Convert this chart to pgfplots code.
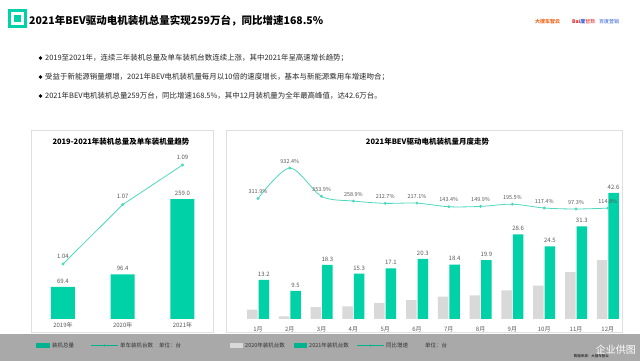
\documentclass[border=0pt]{standalone}
\usepackage{fontspec}
\setmainfont{Noto Sans CJK SC}
\usepackage{pgfplots}
\pgfplotsset{compat=1.18}
\definecolor{bargreen}{HTML}{00D1A7}
\definecolor{linegreen}{HTML}{4FD8C0}
\definecolor{bargray}{HTML}{D9D9D9}
\definecolor{band}{HTML}{A9A9A9}
\definecolor{lbl}{HTML}{595959}
\definecolor{bdorange}{HTML}{F26B21}
\definecolor{bdred}{HTML}{E02020}
\definecolor{bdblue}{HTML}{2A5BD7}
\pgfplotsset{
  /pgf/number format/assume math mode=true,
  panel/.style={scale only axis, anchor=south west, height=169pt,
    axis line style={draw=none}, tick style={draw=none}, ytick=\empty,
    clip=false},
}
\begin{document}
\begin{tikzpicture}[x=1pt,y=1pt]
\useasboundingbox (0,0) rectangle (640,361);
\fill[white] (0,0) rectangle (640,361);
% bottom band
\fill[band] (0,0) rectangle (640,27);
% panels
\draw[gray!25, fill=white] (31,29) rectangle (213,231);
\draw[gray!25, fill=white] (226,29) rectangle (622,231);
% logo
\draw[bargreen, line width=3pt] (9.5,334.5) rectangle (25.5,350.5);
\fill[bargreen] (14,339) rectangle (21,346);
% title
\node[anchor=west, font=\bfseries\fontsize{10.5}{12}\selectfont, inner sep=0] at (29,340) {2021年BEV驱动电机装机总量实现259万台，同比增速168.5\%};
% top-right logos
\node[anchor=west, font=\fontsize{5}{6}\selectfont, inner sep=0] at (535,339) {\textcolor{bdorange}{\bfseries 大搜车智云}};
\node[anchor=west, font=\fontsize{5}{6}\selectfont, inner sep=0] at (572,339) {\textcolor{bdred}{\bfseries Bai}\textcolor{bdblue}{\bfseries 度}\textcolor{bdred}{智数}};
\node[anchor=west, font=\fontsize{5}{6}\selectfont, inner sep=0] at (599,339) {\textcolor{bdblue}{百度营销}};
% bullets
\foreach \yy/\txt in {303/{2019至2021年，连续三年装机总量及单车装机台数连续上涨，其中2021年呈高速增长趋势；},
  284/{受益于新能源销量爆增，2021年BEV电机装机量每月以10倍的速度增长，基本与新能源乘用车增速吻合；},
  265/{2021年BEV电机装机总量259万台，同比增速168.5\%，其中12月装机量为全年最高峰值，达42.6万台。}}{
  \fill[black] (40.5,\yy) circle (1.8);
  \node[anchor=west, font=\fontsize{7.45}{9}\selectfont, text=black!85, inner sep=0] at (45,\yy) {\txt};
}
% panel titles
\node[font=\bfseries\fontsize{7.5}{9}\selectfont] at (121,219) {2019-2021年装机总量及单车装机量趋势};
\node[font=\bfseries\fontsize{7.5}{9}\selectfont] at (427.5,219) {2021年BEV驱动电机装机量月度走势};

% ---------- left chart: bars ----------
\begin{axis}[panel, at={(33.1pt,42pt)}, width=179.25pt,
  xmin=-0.5, xmax=2.5, ymin=0, ymax=365,
  xtick={0,1,2}, xticklabels={2019年,2020年,2021年},
  xticklabel style={font=\fontsize{6}{7}\selectfont, text=lbl},
  nodes near coords style={font=\fontsize{6}{7}\selectfont, text=lbl},
]
\addplot[ybar, bar width=24pt, fill=bargreen, draw=none,
  nodes near coords={\pgfmathprintnumber[fixed,fixed zerofill,precision=1]{\pgfplotspointmeta}}]
  coordinates {(0,69.4) (1,96.4) (2,259.0)};
\end{axis}
% ---------- left chart: line ----------
\begin{axis}[panel, at={(33.1pt,42pt)}, width=179.25pt,
  xmin=-0.5, xmax=2.5, ymin=1.01222, ymax=1.09758, xtick=\empty,
  nodes near coords style={font=\fontsize{6}{7}\selectfont, text=lbl, yshift=2pt},
]
\addplot[linegreen, line width=0.8pt, mark=*, mark size=1.1pt,
  nodes near coords={\pgfmathprintnumber[fixed,fixed zerofill,precision=2]{\pgfplotspointmeta}}]
  coordinates {(0,1.04) (1,1.07) (2,1.09)};
\end{axis}

% ---------- right chart: bars ----------
\begin{axis}[panel, at={(242.1pt,42pt)}, width=381.6pt,
  xmin=0.5, xmax=12.5, ymin=0, ymax=57.1,
  ybar=1pt, bar width=10.5pt,
  xtick={1,...,12}, xticklabels={1月,2月,3月,4月,5月,6月,7月,8月,9月,10月,11月,12月},
  xticklabel style={font=\fontsize{6}{7}\selectfont, text=lbl},
  nodes near coords style={font=\fontsize{6}{7}\selectfont, text=lbl},
]
\addplot[fill=bargray, draw=none] coordinates {
 (1,3.2) (2,0.92) (3,4.03) (4,4.26) (5,5.47) (6,6.40)
 (7,7.56) (8,7.96) (9,9.68) (10,11.27) (11,15.86) (12,19.85)};
\addplot[fill=bargreen, draw=none,
  nodes near coords={\pgfmathprintnumber[fixed,fixed zerofill,precision=1]{\pgfplotspointmeta}}] coordinates {
 (1,13.2) (2,9.5) (3,18.3) (4,15.3) (5,17.1) (6,20.3)
 (7,18.4) (8,19.9) (9,28.6) (10,24.5) (11,31.3) (12,42.6)};
\end{axis}
% ---------- right chart: growth line ----------
\begin{axis}[panel, at={(242.1pt,42pt)}, width=381.6pt,
  xmin=0.5, xmax=12.5, ymin=-2143, ymax=1299, xtick=\empty,
  nodes near coords style={font=\fontsize{5.5}{7}\selectfont, text=lbl, yshift=1pt},
]
\addplot[linegreen, line width=0.8pt, smooth, mark=*, mark size=1pt,
  nodes near coords={\pgfmathprintnumber[fixed,fixed zerofill,precision=1]{\pgfplotspointmeta}\%}] coordinates {
 (1,311.9) (2,932.4) (3,353.9) (4,258.9) (5,212.7) (6,217.1)
 (7,143.4) (8,149.9) (9,195.5) (10,117.4) (11,97.3) (12,114.8)};
\end{axis}

% ---------- band legends ----------
\begin{scope}[font=\fontsize{5.5}{6}\selectfont, text=black!80]
\fill[bargreen!85!black] (36,13) rectangle (50,18);
\node[anchor=west, inner sep=0] at (52,15.5) {装机总量};
\draw[bargreen!85!black, line width=0.8pt] (91,15.5) -- (118,15.5);
\fill[bargreen!85!black] (104.5,15.5) circle (1.2);
\node[anchor=west, inner sep=0] at (120,15.5) {单车装机台数};
\node[anchor=west, inner sep=0] at (159,15.5) {单位：台};
\fill[bargray] (230,13) rectangle (243,18);
\node[anchor=west, inner sep=0] at (245,15.5) {2020年装机台数};
\fill[bargreen!85!black] (294,13) rectangle (307,18);
\node[anchor=west, inner sep=0] at (309,15.5) {2021年装机台数};
\draw[bargreen!85!black, line width=0.8pt] (357,15.5) -- (384,15.5);
\fill[bargreen!85!black] (370.5,15.5) circle (1.2);
\node[anchor=west, inner sep=0] at (386,15.5) {同比增速};
\node[anchor=west, inner sep=0] at (425,15.5) {单位：台};
\end{scope}
\node[anchor=east, font=\fontsize{10}{11}\selectfont, text=white, inner sep=0] at (636,11) {企业供图};
\node[anchor=east, font=\fontsize{3.5}{4}\selectfont, text=black, inner sep=0] at (609,5) {数据来源：大搜车智云};
\end{tikzpicture}
\end{document}
